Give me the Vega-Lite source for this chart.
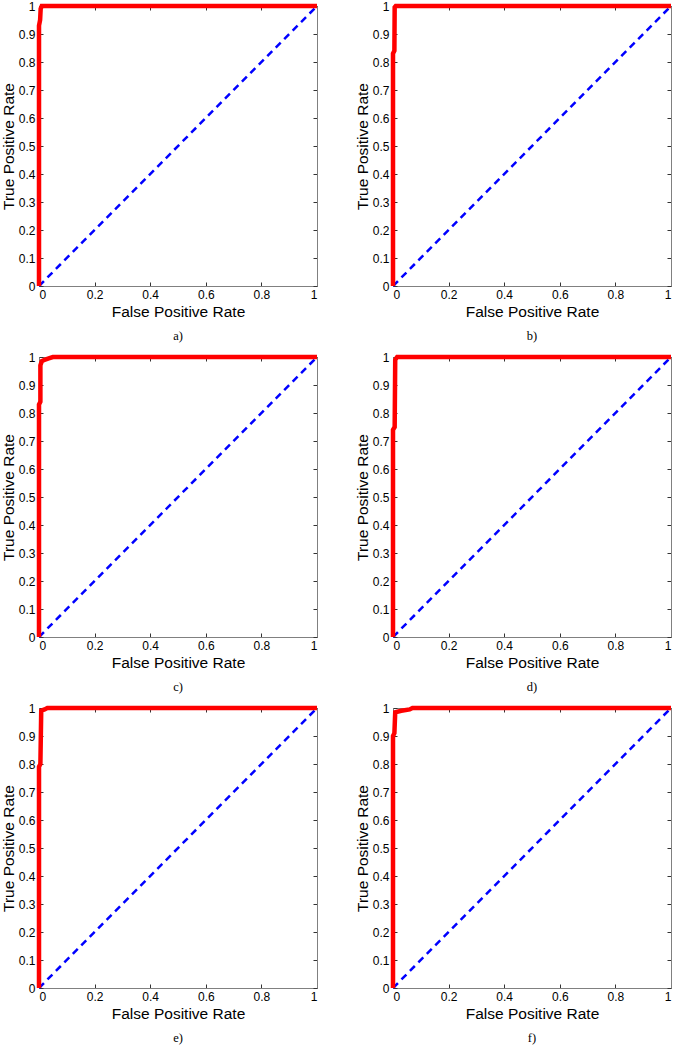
{
  "$schema": "https://vega.github.io/schema/vega-lite/v6.json",
  "padding": {"left": 0, "top": -4, "right": 2, "bottom": 2},
  "background": "white",
  "datasets": {
    "diag": [{"fpr": 0, "tpr": 0}, {"fpr": 1, "tpr": 1}],
    "roc": [
      {"p": "a", "i": 0, "fpr": 0, "tpr": 0},
      {"p": "a", "i": 1, "fpr": 0, "tpr": 0.93},
      {"p": "a", "i": 2, "fpr": 0.004, "tpr": 0.95},
      {"p": "a", "i": 3, "fpr": 0.006, "tpr": 0.99},
      {"p": "a", "i": 4, "fpr": 0.01, "tpr": 1},
      {"p": "a", "i": 5, "fpr": 1, "tpr": 1},
      {"p": "b", "i": 0, "fpr": 0, "tpr": 0},
      {"p": "b", "i": 1, "fpr": 0, "tpr": 0.83},
      {"p": "b", "i": 2, "fpr": 0.005, "tpr": 0.84},
      {"p": "b", "i": 3, "fpr": 0.006, "tpr": 0.995},
      {"p": "b", "i": 4, "fpr": 0.01, "tpr": 1},
      {"p": "b", "i": 5, "fpr": 1, "tpr": 1},
      {"p": "c", "i": 0, "fpr": 0, "tpr": 0},
      {"p": "c", "i": 1, "fpr": 0, "tpr": 0.83},
      {"p": "c", "i": 2, "fpr": 0.005, "tpr": 0.84},
      {"p": "c", "i": 3, "fpr": 0.005, "tpr": 0.97},
      {"p": "c", "i": 4, "fpr": 0.01, "tpr": 0.985},
      {"p": "c", "i": 5, "fpr": 0.02, "tpr": 0.99},
      {"p": "c", "i": 6, "fpr": 0.035, "tpr": 0.995},
      {"p": "c", "i": 7, "fpr": 0.05, "tpr": 1},
      {"p": "c", "i": 8, "fpr": 1, "tpr": 1},
      {"p": "d", "i": 0, "fpr": 0, "tpr": 0},
      {"p": "d", "i": 1, "fpr": 0, "tpr": 0.74},
      {"p": "d", "i": 2, "fpr": 0.006, "tpr": 0.75},
      {"p": "d", "i": 3, "fpr": 0.008, "tpr": 0.99},
      {"p": "d", "i": 4, "fpr": 0.015, "tpr": 1},
      {"p": "d", "i": 5, "fpr": 1, "tpr": 1},
      {"p": "e", "i": 0, "fpr": 0, "tpr": 0},
      {"p": "e", "i": 1, "fpr": 0, "tpr": 0.79},
      {"p": "e", "i": 2, "fpr": 0.005, "tpr": 0.8},
      {"p": "e", "i": 3, "fpr": 0.008, "tpr": 0.99},
      {"p": "e", "i": 4, "fpr": 0.02, "tpr": 0.995},
      {"p": "e", "i": 5, "fpr": 0.03, "tpr": 1},
      {"p": "e", "i": 6, "fpr": 1, "tpr": 1},
      {"p": "f", "i": 0, "fpr": 0, "tpr": 0},
      {"p": "f", "i": 1, "fpr": 0, "tpr": 0.9},
      {"p": "f", "i": 2, "fpr": 0.005, "tpr": 0.91},
      {"p": "f", "i": 3, "fpr": 0.008, "tpr": 0.985},
      {"p": "f", "i": 4, "fpr": 0.03, "tpr": 0.99},
      {"p": "f", "i": 5, "fpr": 0.06, "tpr": 0.995},
      {"p": "f", "i": 6, "fpr": 0.07, "tpr": 1},
      {"p": "f", "i": 7, "fpr": 1, "tpr": 1}
    ]
  },
  "columns": 2,
  "spacing": {"row": 71, "column": 76},
  "bounds": "flush",
  "concat": [
    {
      "width": 278, "height": 280,
      "title": {"text": "a)", "orient": "bottom", "offset": 10},
      "layer": [
        {"data": {"name": "diag"}, "mark": {"type": "line", "color": "#0000ff", "strokeDash": [7, 5], "strokeWidth": 2.5, "clip": false},
         "encoding": {
           "x": {"field": "fpr", "type": "quantitative", "scale": {"domain": [0, 1], "nice": false}, "axis": {"orient": "bottom", "values": [0, 0.2, 0.4, 0.6, 0.8, 1], "format": "~g", "title": "False Positive Rate"}},
           "y": {"field": "tpr", "type": "quantitative", "scale": {"domain": [0, 1], "nice": false}, "axis": {"orient": "left", "values": [0, 0.1, 0.2, 0.3, 0.4, 0.5, 0.6, 0.7, 0.8, 0.9, 1], "format": "~g", "title": "True Positive Rate"}}}},
        {"data": {"name": "roc"}, "transform": [{"filter": "datum.p == 'a'"}], "mark": {"type": "line", "color": "#ff0000", "strokeWidth": 4.5, "clip": false},
         "encoding": {
           "x": {"field": "fpr", "type": "quantitative", "axis": {"orient": "top", "values": [0, 0.2, 0.4, 0.6, 0.8, 1], "labels": false, "title": null}},
           "y": {"field": "tpr", "type": "quantitative", "axis": {"orient": "right", "values": [0, 0.1, 0.2, 0.3, 0.4, 0.5, 0.6, 0.7, 0.8, 0.9, 1], "labels": false, "title": null}},
           "order": {"field": "i", "type": "quantitative"}}}
      ],
      "resolve": {"axis": {"x": "independent", "y": "independent"}}
    },
    {
      "width": 278, "height": 280,
      "title": {"text": "b)", "orient": "bottom", "offset": 10},
      "layer": [
        {"data": {"name": "diag"}, "mark": {"type": "line", "color": "#0000ff", "strokeDash": [7, 5], "strokeWidth": 2.5, "clip": false},
         "encoding": {
           "x": {"field": "fpr", "type": "quantitative", "scale": {"domain": [0, 1], "nice": false}, "axis": {"orient": "bottom", "values": [0, 0.2, 0.4, 0.6, 0.8, 1], "format": "~g", "title": "False Positive Rate"}},
           "y": {"field": "tpr", "type": "quantitative", "scale": {"domain": [0, 1], "nice": false}, "axis": {"orient": "left", "values": [0, 0.1, 0.2, 0.3, 0.4, 0.5, 0.6, 0.7, 0.8, 0.9, 1], "format": "~g", "title": "True Positive Rate"}}}},
        {"data": {"name": "roc"}, "transform": [{"filter": "datum.p == 'b'"}], "mark": {"type": "line", "color": "#ff0000", "strokeWidth": 4.5, "clip": false},
         "encoding": {
           "x": {"field": "fpr", "type": "quantitative", "axis": {"orient": "top", "values": [0, 0.2, 0.4, 0.6, 0.8, 1], "labels": false, "title": null}},
           "y": {"field": "tpr", "type": "quantitative", "axis": {"orient": "right", "values": [0, 0.1, 0.2, 0.3, 0.4, 0.5, 0.6, 0.7, 0.8, 0.9, 1], "labels": false, "title": null}},
           "order": {"field": "i", "type": "quantitative"}}}
      ],
      "resolve": {"axis": {"x": "independent", "y": "independent"}}
    },
    {
      "width": 278, "height": 280,
      "title": {"text": "c)", "orient": "bottom", "offset": 10},
      "layer": [
        {"data": {"name": "diag"}, "mark": {"type": "line", "color": "#0000ff", "strokeDash": [7, 5], "strokeWidth": 2.5, "clip": false},
         "encoding": {
           "x": {"field": "fpr", "type": "quantitative", "scale": {"domain": [0, 1], "nice": false}, "axis": {"orient": "bottom", "values": [0, 0.2, 0.4, 0.6, 0.8, 1], "format": "~g", "title": "False Positive Rate"}},
           "y": {"field": "tpr", "type": "quantitative", "scale": {"domain": [0, 1], "nice": false}, "axis": {"orient": "left", "values": [0, 0.1, 0.2, 0.3, 0.4, 0.5, 0.6, 0.7, 0.8, 0.9, 1], "format": "~g", "title": "True Positive Rate"}}}},
        {"data": {"name": "roc"}, "transform": [{"filter": "datum.p == 'c'"}], "mark": {"type": "line", "color": "#ff0000", "strokeWidth": 4.5, "clip": false},
         "encoding": {
           "x": {"field": "fpr", "type": "quantitative", "axis": {"orient": "top", "values": [0, 0.2, 0.4, 0.6, 0.8, 1], "labels": false, "title": null}},
           "y": {"field": "tpr", "type": "quantitative", "axis": {"orient": "right", "values": [0, 0.1, 0.2, 0.3, 0.4, 0.5, 0.6, 0.7, 0.8, 0.9, 1], "labels": false, "title": null}},
           "order": {"field": "i", "type": "quantitative"}}}
      ],
      "resolve": {"axis": {"x": "independent", "y": "independent"}}
    },
    {
      "width": 278, "height": 280,
      "title": {"text": "d)", "orient": "bottom", "offset": 10},
      "layer": [
        {"data": {"name": "diag"}, "mark": {"type": "line", "color": "#0000ff", "strokeDash": [7, 5], "strokeWidth": 2.5, "clip": false},
         "encoding": {
           "x": {"field": "fpr", "type": "quantitative", "scale": {"domain": [0, 1], "nice": false}, "axis": {"orient": "bottom", "values": [0, 0.2, 0.4, 0.6, 0.8, 1], "format": "~g", "title": "False Positive Rate"}},
           "y": {"field": "tpr", "type": "quantitative", "scale": {"domain": [0, 1], "nice": false}, "axis": {"orient": "left", "values": [0, 0.1, 0.2, 0.3, 0.4, 0.5, 0.6, 0.7, 0.8, 0.9, 1], "format": "~g", "title": "True Positive Rate"}}}},
        {"data": {"name": "roc"}, "transform": [{"filter": "datum.p == 'd'"}], "mark": {"type": "line", "color": "#ff0000", "strokeWidth": 4.5, "clip": false},
         "encoding": {
           "x": {"field": "fpr", "type": "quantitative", "axis": {"orient": "top", "values": [0, 0.2, 0.4, 0.6, 0.8, 1], "labels": false, "title": null}},
           "y": {"field": "tpr", "type": "quantitative", "axis": {"orient": "right", "values": [0, 0.1, 0.2, 0.3, 0.4, 0.5, 0.6, 0.7, 0.8, 0.9, 1], "labels": false, "title": null}},
           "order": {"field": "i", "type": "quantitative"}}}
      ],
      "resolve": {"axis": {"x": "independent", "y": "independent"}}
    },
    {
      "width": 278, "height": 280,
      "title": {"text": "e)", "orient": "bottom", "offset": 10},
      "layer": [
        {"data": {"name": "diag"}, "mark": {"type": "line", "color": "#0000ff", "strokeDash": [7, 5], "strokeWidth": 2.5, "clip": false},
         "encoding": {
           "x": {"field": "fpr", "type": "quantitative", "scale": {"domain": [0, 1], "nice": false}, "axis": {"orient": "bottom", "values": [0, 0.2, 0.4, 0.6, 0.8, 1], "format": "~g", "title": "False Positive Rate"}},
           "y": {"field": "tpr", "type": "quantitative", "scale": {"domain": [0, 1], "nice": false}, "axis": {"orient": "left", "values": [0, 0.1, 0.2, 0.3, 0.4, 0.5, 0.6, 0.7, 0.8, 0.9, 1], "format": "~g", "title": "True Positive Rate"}}}},
        {"data": {"name": "roc"}, "transform": [{"filter": "datum.p == 'e'"}], "mark": {"type": "line", "color": "#ff0000", "strokeWidth": 4.5, "clip": false},
         "encoding": {
           "x": {"field": "fpr", "type": "quantitative", "axis": {"orient": "top", "values": [0, 0.2, 0.4, 0.6, 0.8, 1], "labels": false, "title": null}},
           "y": {"field": "tpr", "type": "quantitative", "axis": {"orient": "right", "values": [0, 0.1, 0.2, 0.3, 0.4, 0.5, 0.6, 0.7, 0.8, 0.9, 1], "labels": false, "title": null}},
           "order": {"field": "i", "type": "quantitative"}}}
      ],
      "resolve": {"axis": {"x": "independent", "y": "independent"}}
    },
    {
      "width": 278, "height": 280,
      "title": {"text": "f)", "orient": "bottom", "offset": 10},
      "layer": [
        {"data": {"name": "diag"}, "mark": {"type": "line", "color": "#0000ff", "strokeDash": [7, 5], "strokeWidth": 2.5, "clip": false},
         "encoding": {
           "x": {"field": "fpr", "type": "quantitative", "scale": {"domain": [0, 1], "nice": false}, "axis": {"orient": "bottom", "values": [0, 0.2, 0.4, 0.6, 0.8, 1], "format": "~g", "title": "False Positive Rate"}},
           "y": {"field": "tpr", "type": "quantitative", "scale": {"domain": [0, 1], "nice": false}, "axis": {"orient": "left", "values": [0, 0.1, 0.2, 0.3, 0.4, 0.5, 0.6, 0.7, 0.8, 0.9, 1], "format": "~g", "title": "True Positive Rate"}}}},
        {"data": {"name": "roc"}, "transform": [{"filter": "datum.p == 'f'"}], "mark": {"type": "line", "color": "#ff0000", "strokeWidth": 4.5, "clip": false},
         "encoding": {
           "x": {"field": "fpr", "type": "quantitative", "axis": {"orient": "top", "values": [0, 0.2, 0.4, 0.6, 0.8, 1], "labels": false, "title": null}},
           "y": {"field": "tpr", "type": "quantitative", "axis": {"orient": "right", "values": [0, 0.1, 0.2, 0.3, 0.4, 0.5, 0.6, 0.7, 0.8, 0.9, 1], "labels": false, "title": null}},
           "order": {"field": "i", "type": "quantitative"}}}
      ],
      "resolve": {"axis": {"x": "independent", "y": "independent"}}
    }
  ],
  "config": {
    "view": {"stroke": "#808080", "strokeWidth": 1},
    "axis": {
      "grid": false,
      "domainColor": "#808080",
      "tickColor": "#333333",
      "tickSize": -4,
      "labelFont": "Liberation Sans",
      "labelFontSize": 12,
      "labelColor": "#000000",
      "titleFont": "Liberation Sans",
      "titleFontSize": 15.5,
      "titleFontWeight": "normal",
      "titleColor": "#000000"
    },
    "axisX": {"labelPadding": 7, "titlePadding": 4},
    "axisY": {"labelPadding": 8, "titlePadding": 2},
    "title": {"font": "Liberation Serif", "fontSize": 12.5, "fontWeight": "normal", "color": "#000000"}
  }
}
